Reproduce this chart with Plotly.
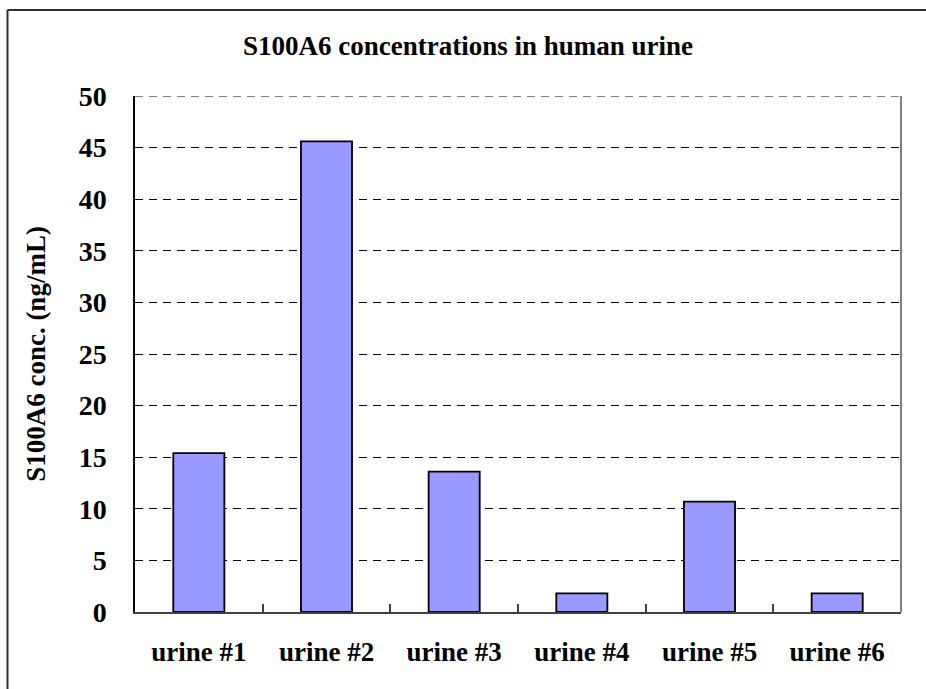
import plotly.graph_objects as go

categories = ["urine #1", "urine #2", "urine #3", "urine #4", "urine #5", "urine #6"]
values = [15.4, 45.6, 13.6, 1.8, 10.7, 1.8]
y_ticks = [0, 5, 10, 15, 20, 25, 30, 35, 40, 45, 50]

W, H = 926, 689
L, R, T, B = 135, 25, 96, 77
pw, ph = W - L - R, H - T - B

def px_x(x):
    return (x - L) / pw

def px_y(y):
    return (H - B - y) / ph

FONT = "Liberation Serif"

fig = go.Figure(go.Bar(
    x=categories, y=values,
    width=0.4,
    marker=dict(color="#9999FF", line=dict(color="black", width=1.8)),
))

fig.update_layout(
    width=W, height=H,
    margin=dict(l=L, r=R, t=T, b=B),
    paper_bgcolor="white", plot_bgcolor="white",
    showlegend=False,
    font=dict(family=FONT, color="black"),
    title=dict(
        text="<b>S100A6 concentrations in human urine</b>",
        font=dict(family=FONT, size=27, color="black"),
        x=468 / W, xanchor="center", xref="container",
        y=1 - 46 / H, yanchor="middle", yref="container",
    ),
    xaxis=dict(
        type="category",
        tickson="boundaries",
        ticks="inside", ticklen=8, tickwidth=1.5, tickcolor="#404040",
        showline=True, linecolor="#404040", linewidth=2,
        showgrid=False,
        tickfont=dict(family=FONT, size=27, color="black"),
        tickprefix="<b>", ticksuffix="</b>",
        ticklabelstandoff=15,
    ),
    yaxis=dict(
        range=[0, 50],
        tickvals=y_ticks,
        ticktext=[f"<b>{v}</b>" for v in y_ticks],
        showline=True, linecolor="black", linewidth=1.5,
        showgrid=True, gridcolor="black", gridwidth=1, griddash="8px,6px",
        zeroline=False,
        ticks="",
        tickfont=dict(family=FONT, size=28, color="black"),
        ticklabelstandoff=21,
        title=dict(text="<b>S100A6 conc. (ng/mL)</b>",
                   font=dict(family=FONT, size=27, color="black"),
                   standoff=25),
    ),
    shapes=[
        dict(type="line", xref="paper", yref="y", x0=0, x1=1,
             y0=y_ticks[-1], y1=y_ticks[-1],
             line=dict(color="#555555", width=1.5, dash="8px,6px")),
        dict(type="line", xref="paper", yref="paper", x0=1, x1=1, y0=0, y1=1,
             line=dict(color="#808080", width=2)),
        dict(type="line", xref="paper", yref="paper",
             x0=px_x(7.5), x1=px_x(7.5), y0=px_y(10), y1=px_y(H + 2),
             line=dict(color="#303030", width=2)),
        dict(type="line", xref="paper", yref="paper",
             x0=px_x(7.5), x1=px_x(W + 2), y0=px_y(10), y1=px_y(10),
             line=dict(color="#303030", width=2)),
    ],
)

fig.write_html(
    "out.html",
    config={"displayModeBar": False},
    post_script="document.body.style.margin='0';document.body.style.overflow='hidden';",
)
